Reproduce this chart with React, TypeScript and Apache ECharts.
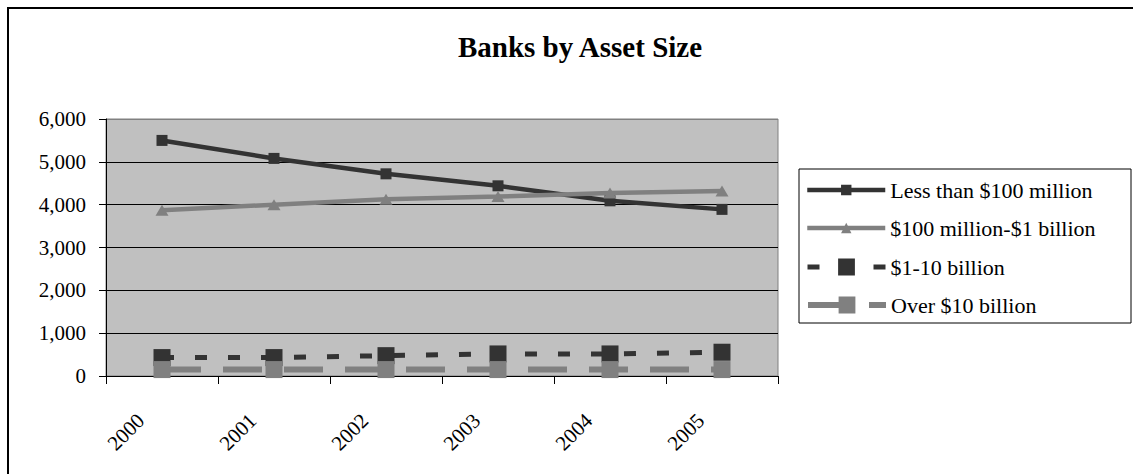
import React, { useEffect, useRef } from "react";
import * as echarts from "echarts";

// Number of banks by asset size, 2000–2005
const years = ["2000", "2001", "2002", "2003", "2004", "2005"];
const lessThan100m = [5500, 5080, 4720, 4440, 4090, 3890];
const from100mTo1b = [3870, 4000, 4125, 4190, 4270, 4320];
const from1bTo10b = [430, 430, 475, 515, 515, 555];
const over10b = [150, 150, 150, 150, 150, 150];
const seriesNames = [
  "Less than $100 million",
  "$100 million-$1 billion",
  "$1-10 billion",
  "Over $10 billion",
];
const yMin = 0;
const yMax = 6000;
const yStep = 1000;

const FONT = '"Liberation Serif", "Times New Roman", serif';
const DARK = "#333333";
const GRAY = "#808080";

export default function App() {
  const ref = useRef<HTMLDivElement>(null);

  useEffect(() => {
    if (!ref.current) return;
    const chart = echarts.init(ref.current, undefined, { renderer: "svg" });

    // one legend block per row so each row can have its own marker size and stroke
    const legendRows = [
      { center: 190, itemHeight: 13, lineWidth: 4.5 },
      { center: 228, itemHeight: 13, lineWidth: 4.5 },
      { center: 267, itemHeight: 21, lineWidth: 5 },
      { center: 305, itemHeight: 21, lineWidth: 6 },
    ];

    chart.setOption({
      animation: false,
      backgroundColor: "#ffffff",
      textStyle: { fontFamily: FONT, color: "#000" },
      title: {
        text: "Banks by Asset Size",
        left: 575,
        textAlign: "center",
        top: 27,
        textStyle: { fontFamily: FONT, fontSize: 29, fontWeight: "bold", color: "#000" },
      },
      legend: legendRows.map((row, i) => ({
        data: [seriesNames[i]],
        left: 805,
        top: row.center - 11,
        padding: 0,
        itemWidth: 78,
        itemHeight: row.itemHeight,
        selectedMode: false,
        lineStyle: { width: row.lineWidth },
        textStyle: { fontFamily: FONT, fontSize: 22, color: "#000" },
      })),
      grid: {
        left: 106,
        top: 119,
        width: 672,
        height: 257,
        show: true,
        backgroundColor: "#C0C0C0",
        borderColor: GRAY,
        borderWidth: 1,
      },
      xAxis: {
        type: "category",
        data: years,
        boundaryGap: true,
        axisLine: { lineStyle: { color: "#000", width: 1 } },
        axisTick: { show: true, length: 8, lineStyle: { color: "#000" } },
        axisLabel: {
          rotate: 45,
          margin: 20,
          padding: [0, 30, 0, 0],
          fontFamily: FONT,
          fontSize: 21,
          color: "#000",
        },
        splitLine: { show: false },
      },
      yAxis: {
        type: "value",
        min: yMin,
        max: yMax,
        interval: yStep,
        axisLine: { show: true, lineStyle: { color: "#000", width: 1 } },
        axisTick: { show: true, length: 7, lineStyle: { color: "#000" } },
        axisLabel: {
          margin: 20,
          fontFamily: FONT,
          fontSize: 21,
          color: "#000",
          formatter: (v: number) => v.toLocaleString("en-US"),
        },
        splitLine: {
          show: true,
          lineStyle: {
            color: ["#000", "#000", "#000", "#000", "#000", "#000", GRAY],
            width: 1,
          },
        },
      },
      series: [
        {
          name: seriesNames[0],
          type: "line",
          data: lessThan100m,
          symbol: "rect",
          symbolSize: 11,
          itemStyle: { color: DARK },
          lineStyle: { color: DARK, width: 4.5 },
          silent: true,
        },
        {
          name: seriesNames[1],
          type: "line",
          data: from100mTo1b,
          symbol: "triangle",
          symbolSize: [13, 11],
          itemStyle: { color: GRAY },
          lineStyle: { color: GRAY, width: 4.5 },
          silent: true,
        },
        {
          name: seriesNames[2],
          type: "line",
          data: from1bTo10b,
          symbol: "rect",
          symbolSize: 17,
          itemStyle: { color: DARK },
          lineStyle: { color: DARK, width: 5, type: [12, 21] },
          silent: true,
        },
        {
          name: seriesNames[3],
          type: "line",
          data: over10b,
          symbol: "rect",
          symbolSize: 17,
          itemStyle: { color: GRAY },
          lineStyle: { color: GRAY, width: 6, type: [39, 22] },
          silent: true,
        },
      ],
      graphic: [
        {
          type: "rect",
          shape: { x: 8, y: 8, width: 1300, height: 600 },
          style: { fill: "none", stroke: "#000", lineWidth: 2 },
          silent: true,
        },
        {
          type: "rect",
          shape: { x: 799, y: 169, width: 332, height: 154 },
          style: { fill: "none", stroke: "#000", lineWidth: 1 },
          silent: true,
        },
      ],
    });

    return () => chart.dispose();
  }, []);

  return (
    <div
      ref={ref}
      style={{
        position: "fixed",
        left: 0,
        top: 0,
        width: 1133,
        height: 474,
        overflow: "hidden",
        background: "#fff",
      }}
    />
  );
}
